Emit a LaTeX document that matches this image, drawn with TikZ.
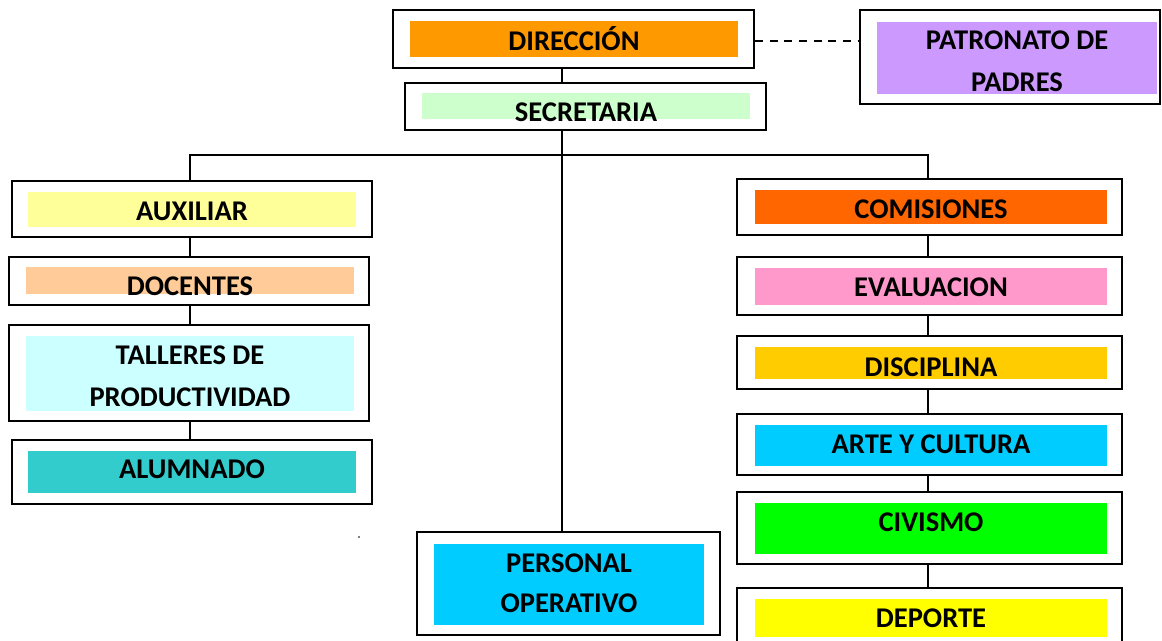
\documentclass[tikz,border=0pt]{standalone}
\usepackage{fontspec}
\setmainfont{Carlito}
\usetikzlibrary{fit}
\definecolor{cDir}{HTML}{FF9900}
\definecolor{cSec}{HTML}{CCFFCC}
\definecolor{cPat}{HTML}{CC99FF}
\definecolor{cAux}{HTML}{FFFF99}
\definecolor{cDoc}{HTML}{FFCC99}
\definecolor{cTal}{HTML}{CCFFFF}
\definecolor{cAlu}{HTML}{33CCCC}
\definecolor{cCom}{HTML}{FF6600}
\definecolor{cEva}{HTML}{FF99CC}
\definecolor{cDis}{HTML}{FFCC00}
\definecolor{cArt}{HTML}{00CCFF}
\definecolor{cCiv}{HTML}{00FF00}
\definecolor{cDep}{HTML}{FFFF00}
\tikzset{
  unitbox/.style={draw, line width=1.5pt, fill=white, inner sep=0pt},
  band/.style={fill=#1, inner sep=0pt},
  txt/.style={anchor=base, align=center, inner sep=0pt,
    font=\bfseries\fontsize{21.4}{31.5}\selectfont},
  link/.style={line width=1.5pt}
}
\begin{document}
\begin{tikzpicture}[x=0.75pt,y=-0.75pt]
\useasboundingbox (0,0) rectangle (1162,640);
\coordinate (lcol) at (190,155);
\coordinate (mcol) at (562,155);
\coordinate (rcol) at (928,155);
% top
\node[unitbox, fit={(393,10) (754,68)}] (dir) {};
\node[band=cDir, fit={(410,21) (738,57)}] (dirB) {};
\node[txt] (dirT) at (574,50) {DIRECCIÓN};
\node[unitbox, fit={(405,83) (766,130)}] (sec) {};
\node[band=cSec, fit={(422,93) (750,119)}] (secB) {};
\node[txt] (secT) at (586,121) {SECRETARIA};
\node[unitbox, fit={(860,10) (1160,104)}] (pat) {};
\node[band=cPat, fit={(877,22) (1157,94)}] (patB) {};
\node[txt] (patT) at (1017,91) {PATRONATO DE\\PADRES};
% left column
\node[unitbox, fit={(12,181) (372,237)}] (aux) {};
\node[band=cAux, fit={(28,192) (356,227)}] (auxB) {};
\node[txt] (auxT) at (192,220) {AUXILIAR};
\node[unitbox, fit={(9,257) (369,305)}] (doc) {};
\node[band=cDoc, fit={(26,267) (354,294)}] (docB) {};
\node[txt] (docT) at (190,295) {DOCENTES};
\node[unitbox, fit={(9,325) (369,421)}] (tal) {};
\node[band=cTal, fit={(26,336) (354,411)}] (talB) {};
\node[txt] (talT) at (190,406) {TALLERES DE\\PRODUCTIVIDAD};
\node[unitbox, fit={(12,440) (372,504)}] (alu) {};
\node[band=cAlu, fit={(28,451) (356,493)}] (aluB) {};
\node[txt] (aluT) at (192,478) {ALUMNADO};
% middle
\node[unitbox, fit={(417,532) (720,635)}] (per) {};
\node[band=cArt, fit={(434,544) (704,625)}] (perB) {};
\node[txt] (perT) at (569,612) {PERSONAL\\[-1.5pt]OPERATIVO};
% right column
\node[unitbox, fit={(737,179) (1122,235)}] (com) {};
\node[band=cCom, fit={(755,190) (1107,224)}] (comB) {};
\node[txt] (comT) at (931,218) {COMISIONES};
\node[unitbox, fit={(737,257) (1122,315)}] (eva) {};
\node[band=cEva, fit={(755,268) (1107,305)}] (evaB) {};
\node[txt] (evaT) at (931,296) {EVALUACION};
\node[unitbox, fit={(737,336) (1122,389)}] (dis) {};
\node[band=cDis, fit={(755,347) (1107,379)}] (disB) {};
\node[txt] (disT) at (931,376) {DISCIPLINA};
\node[unitbox, fit={(737,414) (1122,475)}] (art) {};
\node[band=cArt, fit={(755,425) (1107,466)}] (artB) {};
\node[txt] (artT) at (931,453) {ARTE Y CULTURA};
\node[unitbox, fit={(737,492) (1122,564)}] (civ) {};
\node[band=cCiv, fit={(755,503) (1107,554)}] (civB) {};
\node[txt] (civT) at (931,531) {CIVISMO};
\node[unitbox, fit={(737,588) (1122,660)}] (dep) {};
\node[band=cDep, fit={(755,599) (1107,637)}] (depB) {};
\node[txt] (depT) at (931,627) {DEPORTE};
% links
\draw[link] (dir.south -| mcol) -- (sec.north -| mcol);
\draw[link] (sec.south -| mcol) -- (per.north -| mcol);
\draw[link] (aux.north -| lcol) -- (lcol) -- (rcol) -- (com.north -| rcol);
\draw[line width=1pt, dash pattern=on 6pt off 5pt] (dir.east |- 0,41) -- (pat.west |- 0,41);
\draw[link] (aux.south -| lcol) -- (doc.north -| lcol);
\draw[link] (doc.south -| lcol) -- (tal.north -| lcol);
\draw[link] (tal.south -| lcol) -- (alu.north -| lcol);
\draw[link] (com.south -| rcol) -- (eva.north -| rcol);
\draw[link] (eva.south -| rcol) -- (dis.north -| rcol);
\draw[link] (dis.south -| rcol) -- (art.north -| rcol);
\draw[link] (art.south -| rcol) -- (civ.north -| rcol);
\draw[link] (civ.south -| rcol) -- (dep.north -| rcol);
\fill (359,537) circle (0.7pt);
\end{tikzpicture}
\end{document}
